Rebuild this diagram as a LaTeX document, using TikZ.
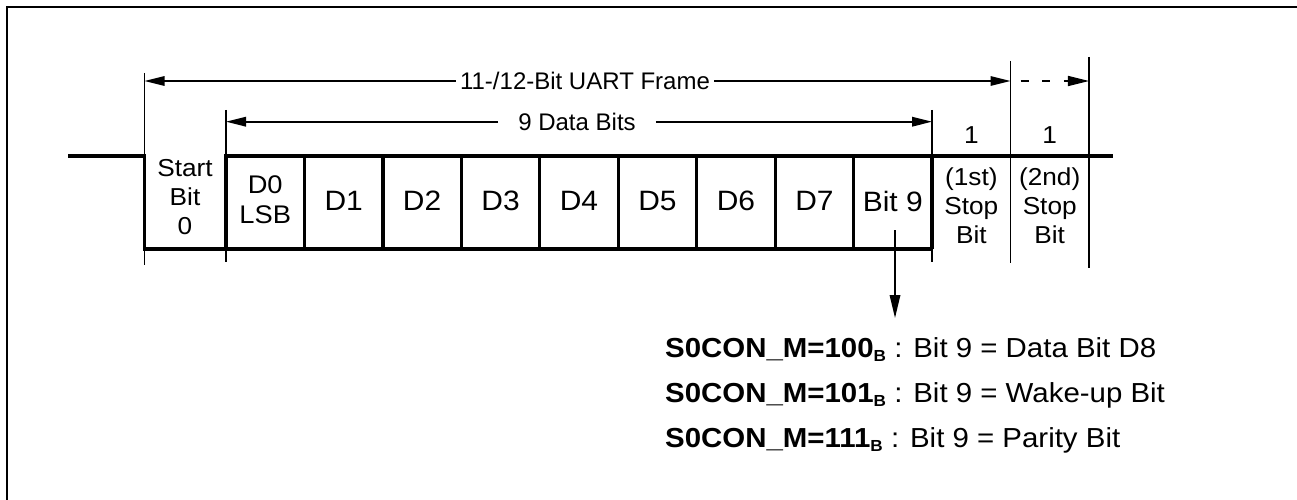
\documentclass[tikz,border=0pt]{standalone}
\usepackage{fontspec}
\setmainfont{Liberation Sans}
\newfontfamily\widefont{Liberation Sans}[FakeStretch=1.07]
\usetikzlibrary{arrows.meta}
\tikzset{
  thin line/.style={line width=1.7pt},
  thick line/.style={line width=3.3pt},
  frame line/.style={line width=2.3pt},
  dimarrow/.style={thin line,-{Triangle[length=20pt,width=9.5pt]}},
  cell/.style={font=\widefont\fontsize{28}{30}\selectfont,inner sep=0pt},
  small/.style={font=\widefont\fontsize{24.5}{29}\selectfont,inner sep=0pt,align=center},
  dimlabel/.style={font=\fontsize{24}{28}\selectfont,inner ysep=0pt},
  note/.style={font=\widefont\fontsize{27.5}{31}\selectfont,inner sep=0pt,anchor=base west},
}
\newcommand{\subB}{\raisebox{-4pt}{\fontsize{16}{16}\selectfont\bfseries B}}
\begin{document}
\begin{tikzpicture}[x=1pt,y=-1pt]
\useasboundingbox (0,0) rectangle (1297,500);
% frame border
\draw[frame line] (1297,7) -- (7,7) -- (7,500);
% tick lines
\coordinate (ts) at (144.5,73);   \coordinate (bs) at (144.5,265);
\coordinate (t0) at (226,110);    \coordinate (b0) at (226,262);
\coordinate (t9) at (932.05,110); \coordinate (b9) at (932.05,262);
\coordinate (t10) at (1010.5,61); \coordinate (b10) at (1010.5,263);
\coordinate (t11) at (1088.95,57);\coordinate (b11) at (1088.95,268);
\draw[thin line] (ts) -- (bs);
\draw[thin line] (t0) -- (b0);
\draw[thin line] (t9) -- (b9);
\draw[thin line] (t10) -- (b10);
\draw[thin line] (t11) -- (b11);
% waveform
\coordinate (idle) at (68,156);
\coordinate (endhi) at (1113,156);
\draw[thick line] (idle) -- (144.5,156) -- (144.5,249) -- (932.05,249);
\draw[thick line] (224,156) -- (endhi);
\foreach \x in {226,304.45,382.9,461.35,539.8,618.25,696.7,775.15,853.6,932.05}
  \draw[thick line] (\x,156) -- (\x,249);
% cell labels
\node[small] (start) at (185,197.5) {Start\\Bit\\0};
\node[small,font=\widefont\fontsize{25.5}{30.5}\selectfont] (d0) at (265.2,199.5) {D0\\LSB};
\node[cell] (d1) at (343.7,201) {D1};
\node[cell] (d2) at (422.1,201) {D2};
\node[cell] (d3) at (500.6,201) {D3};
\node[cell] (d4) at (579,201) {D4};
\node[cell] (d5) at (657.5,201) {D5};
\node[cell] (d6) at (735.9,201) {D6};
\node[cell] (d7) at (814.4,201) {D7};
\node[cell] (bit9) at (892.8,201) {Bit 9};
\node[small] (stop1) at (971.3,206) {(1st)\\Stop\\Bit};
\node[small] (stop2) at (1049.7,206) {(2nd)\\Stop\\Bit};
\node[small,anchor=base] (one1) at (971.3,143) {1};
\node[small,anchor=base] (one2) at (1049.7,143) {1};
% frame dimension
\node[dimlabel,inner xsep=4pt] (frame) at (585,81) {11-/12-Bit UART Frame};
\coordinate (fl) at (144.5,81);
\coordinate (fr) at (1010.5,81);
\coordinate (fr2) at (1088.95,81);
\draw[dimarrow] (frame.west) -- (fl);
\draw[dimarrow] (frame.east) -- (fr);
\draw[thin line,dash pattern=on 8pt off 13.7pt,dash phase=11.7pt,-{Triangle[length=21pt,width=10pt]}] (fr) -- (fr2);
% data bits dimension
\node[dimlabel,inner xsep=20pt] (data) at (577,121.7) {9 Data Bits};
\coordinate (dl) at (226,121.7);
\coordinate (dr) at (932.05,121.7);
\draw[dimarrow] (data.west) -- (dl);
\draw[dimarrow] (data.east) -- (dr);
% bit 9 arrow
\coordinate (b9src) at (895,230);
\coordinate (b9dst) at (895,318);
\draw[thin line,-{Triangle[length=23pt,width=10.5pt]}] (b9src) -- (b9dst);
% notes
\node[note] (n1) at (665,357) {\textbf{S0CON\_M=100\subB} : Bit 9 = Data Bit D8};
\node[note] (n2) at (665,402) {\textbf{S0CON\_M=101\subB} : Bit 9 = Wake-up Bit};
\node[note] (n3) at (665,447) {\textbf{S0CON\_M=111\subB} : Bit 9 = Parity Bit};
\end{tikzpicture}
\end{document}
